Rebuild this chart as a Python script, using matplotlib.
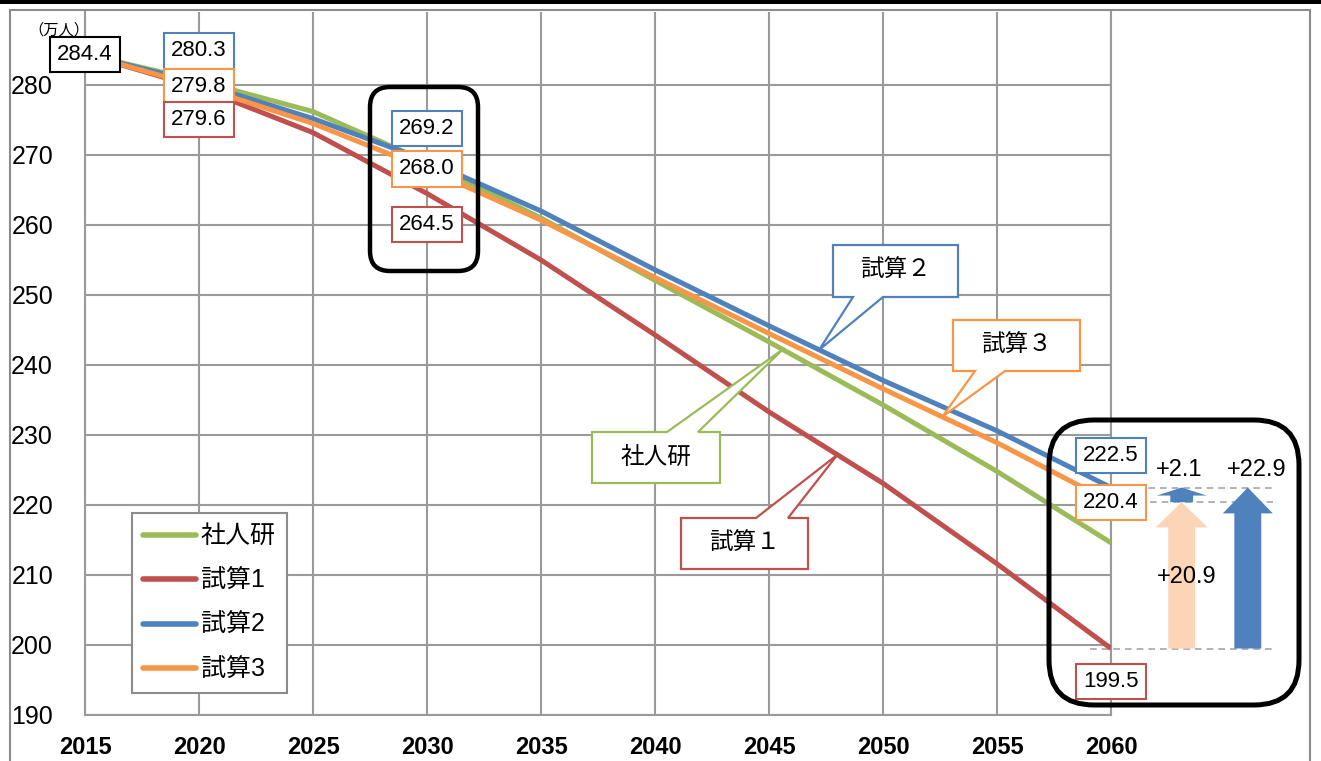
import matplotlib.pyplot as plt
from matplotlib.patches import FancyBboxPatch, Polygon, Rectangle, FancyArrow
from matplotlib.lines import Line2D
from matplotlib.transforms import IdentityTransform
import numpy as np

plt.rcParams['font.family'] = ['Liberation Sans', 'Noto Sans CJK JP']

# data (万人)
years = [2015, 2020, 2025, 2030, 2035, 2040, 2045, 2050, 2055, 2060]
shajinken = [284.4, 280.6, 276.2, 269.0, 261.0, 252.1, 243.3, 234.3, 224.8, 214.6]
shisan1 = [284.4, 279.6, 273.2, 264.5, 255.0, 244.3, 233.3, 223.1, 211.6, 199.5]
shisan2 = [284.4, 280.3, 275.2, 269.2, 262.0, 253.6, 245.6, 237.8, 230.6, 222.5]
shisan3 = [284.4, 279.8, 274.5, 268.0, 260.7, 252.5, 244.5, 236.6, 228.9, 220.4]
y_ticks = [190, 200, 210, 220, 230, 240, 250, 260, 270, 280]

GREEN = '#9BBB59'
RED = '#C0504D'
BLUE = '#4F81BD'
ORANGE = '#F79646'
PEACH = '#FBD5B5'
GRID = '#9a9a9a'

W, H = 1321, 761
fig = plt.figure(figsize=(W / 100, H / 100), dpi=100)
ax = fig.add_axes([85 / W, (H - 715) / H, (1111 - 85) / W, (715 - 11.5) / H])
ax.set_xlim(2015, 2060)
ax.set_ylim(190, 290.5)

# grid and axes
ax.set_xticks(years)
ax.set_yticks(y_ticks)
ax.grid(True, color=GRID, lw=1.5)
ax.set_axisbelow(True)
ax.spines['top'].set_visible(False)
for s in ['left', 'bottom', 'right']:
    ax.spines[s].set_color(GRID)
    ax.spines[s].set_linewidth(1.5)
ax.tick_params(axis='y', length=0, pad=23, labelsize=18)
ax.tick_params(axis='x', length=0, pad=15, labelsize=17)
for lab in ax.get_xticklabels():
    lab.set_fontweight('bold')

# series
ax.plot(years, shisan1, color=RED, lw=3.6, solid_capstyle='butt', zorder=3)
ax.plot(years, shajinken, color=GREEN, lw=3.6, solid_capstyle='butt', zorder=3)
ax.plot(years, shisan2, color=BLUE, lw=3.6, solid_capstyle='butt', zorder=3)
ax.plot(years, shisan3, color=ORANGE, lw=3.6, solid_capstyle='butt', zorder=3)


def data_label(yr, val, color, off_px):
    ax.annotate(f"{val:.1f}", xy=(yr, val), xytext=(0, off_px * 0.72),
                textcoords='offset points', ha='center', va='center', fontsize=16,
                bbox=dict(boxstyle='square,pad=0.32', fc='white', ec=color, lw=1.5),
                zorder=6, annotation_clip=False)


data_label(2015, shisan2[0], 'black', 0)
data_label(2020, shisan2[1], BLUE, 32)
data_label(2020, shisan3[1], ORANGE, 0)
data_label(2020, shisan1[1], RED, -32)
data_label(2030, shisan2[3], BLUE, 32)
data_label(2030, shisan3[3], ORANGE, 0)
data_label(2030, shisan1[3], RED, -31)
data_label(2060, shisan2[-1], BLUE, 32)
data_label(2060, shisan3[-1], ORANGE, 0)
data_label(2060, shisan1[-1], RED, -33)

# legend
handles = [Line2D([], [], color=c, lw=4, solid_capstyle='round')
           for c in [GREEN, RED, BLUE, ORANGE]]
leg = ax.legend(handles, ['社人研', '試算1', '試算2', '試算3'], loc='upper left',
                bbox_to_anchor=((132 - 85) / 1026, (715 - 513) / 703.5),
                borderaxespad=0, fontsize=18, handlelength=2.1, handletextpad=0.2,
                labelspacing=0.82, borderpad=0.45, fancybox=False, framealpha=1)
leg.get_frame().set_edgecolor('#8c8c8c')
leg.get_frame().set_linewidth(1.5)

# arrows and dashed guides in the right box
dash = dict(ls=(0, (4, 3)), color='#a6a6a6', lw=1.2, clip_on=False, zorder=2)
ax.plot([2059.1, 2067.1], [shisan2[-1]] * 2, **dash)
ax.plot([2061.7, 2067.1], [shisan3[-1]] * 2, **dash)
ax.plot([2059.1, 2067.1], [shisan1[-1]] * 2, **dash)

ax.add_patch(FancyArrow(2063.1, shisan1[-1], 0, shisan3[-1] - shisan1[-1], width=1.18,
                        head_width=2.28, head_length=3.6, length_includes_head=True,
                        color=PEACH, lw=0, clip_on=False, zorder=4))
ax.add_patch(FancyArrow(2063.1, shisan3[-1], 0, shisan2[-1] - shisan3[-1], width=1.0,
                        head_width=2.19, head_length=1.15, length_includes_head=True,
                        color=BLUE, lw=0, clip_on=False, zorder=4))
ax.add_patch(FancyArrow(2066.0, shisan1[-1], 0, shisan2[-1] - shisan1[-1], width=1.18,
                        head_width=2.19, head_length=3.7, length_includes_head=True,
                        color=BLUE, lw=0, clip_on=False, zorder=4))
txt = dict(fontsize=17, ha='center', va='center', clip_on=False, zorder=7)
ax.text(2063.0, 225.0, '+2.1', **txt)
ax.text(2066.4, 225.0, '+22.9', **txt)
ax.text(2063.3, 209.7, '+20.9', **txt)

# figure level decoration (pixel coords, y from top)
ident = IdentityTransform()


def img(yr, val):
    d = ax.transData.transform((yr, val))
    return d[0], H - d[1]


def flip(pts):
    return [(x, H - y) for x, y in pts]


fig.text(28, H - 30, '（万人）', fontsize=11, ha='left', va='center', transform=ident)

fig.add_artist(Rectangle((0, H - 4), W, 4, fc='black', ec='none', transform=ident))
fig.add_artist(Rectangle((10, -20), 1300, H - 10 + 20, fill=False, ec='#8c8c8c',
                         lw=1.5, transform=ident))

fig.add_artist(FancyBboxPatch((370, H - 271), 108, 184,
                              boxstyle='round,pad=0,rounding_size=20', fill=False,
                              ec='black', lw=3.2, transform=ident, zorder=5))
fig.add_artist(FancyBboxPatch((1049, H - 705), 250, 285,
                              boxstyle='round,pad=0,rounding_size=45', fill=False,
                              ec='black', lw=3.6, transform=ident, zorder=5))


def callout(box, base, tip, text, color, top):
    x0, y0, x1, y1 = box
    b0, b1 = base
    if top:
        pts = [(x0, y0), (b0, y0), tip, (b1, y0), (x1, y0), (x1, y1), (x0, y1)]
    else:
        pts = [(x0, y0), (x1, y0), (x1, y1), (b1, y1), tip, (b0, y1), (x0, y1)]
    fig.add_artist(Polygon(flip(pts), closed=True, fc='white', ec=color, lw=1.6,
                           transform=ident, zorder=6))
    fig.text((x0 + x1) / 2, H - (y0 + y1) / 2, text, fontsize=17, ha='center',
             va='center', transform=ident, zorder=7)


yrs = np.array(years, dtype=float)
callout((833, 245, 958, 297), (853, 883),
        img(2047.2, np.interp(2047.2, yrs, shisan2)), '試算２', BLUE, False)
callout((953, 320, 1080, 371), (975, 1005),
        img(2052.6, np.interp(2052.6, yrs, shisan3)), '試算３', ORANGE, False)
callout((592, 432, 720, 483), (667, 698),
        img(2045.6, np.interp(2045.6, yrs, shajinken)), '社人研', GREEN, True)
callout((681, 518, 808, 569), (756, 788),
        img(2048.0, np.interp(2048.0, yrs, shisan1)), '試算１', RED, True)

fig.savefig('out.png', dpi=100)
